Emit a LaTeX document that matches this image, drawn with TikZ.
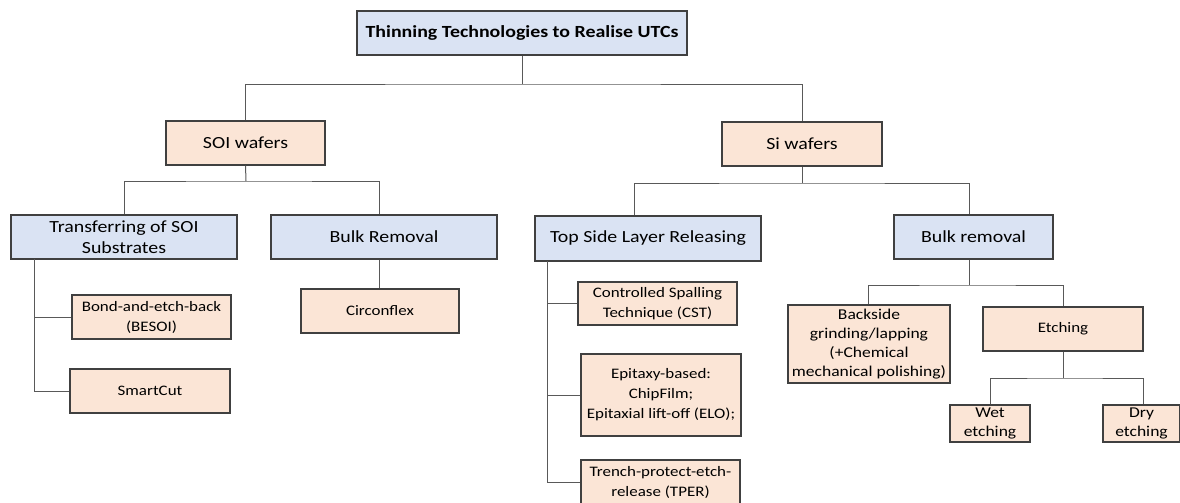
\documentclass[tikz,border=0pt]{standalone}
\usepackage{fontspec}
\setmainfont{Carlito}[FakeStretch=1.17]
\begin{document}
\begin{tikzpicture}[x=1pt,y=-1pt,
  every node/.style={inner sep=0pt,align=center,font=\fontsize{17}{20.5}\selectfont},
  bluebox/.style={draw=boxline,line width=1.2pt,fill=blueish,rectangle},
  peachbox/.style={draw=boxline,line width=1.2pt,fill=peach,rectangle},
  leaf/.style={peachbox,font=\fontsize{14.5}{20}\selectfont},
  link/.style={draw=linkgray,line width=1pt}]
\definecolor{blueish}{HTML}{DAE3F3}
\definecolor{peach}{HTML}{FBE5D6}
\definecolor{boxline}{HTML}{404040}
\definecolor{linkgray}{HTML}{595959}
\useasboundingbox (0,0) rectangle (1180,503);

% --- boxes ---
\node[bluebox,minimum width=330,minimum height=44,font=\fontsize{17}{20.5}\selectfont\bfseries] (title) at (522,33) {Thinning Technologies to Realise UTCs};

\node[peachbox,minimum width=159,minimum height=44] (soi) at (245.5,143) {SOI wafers};
\node[peachbox,minimum width=160,minimum height=44] (si) at (802,144) {Si wafers};

\node[bluebox,minimum width=226,minimum height=44] (trans) at (124,237) {Transferring of SOI\\Substrates};
\node[bluebox,minimum width=226,minimum height=44] (bulkA) at (384,237) {Bulk Removal};
\node[bluebox,minimum width=226,minimum height=45] (topl) at (648,238.5) {Top Side Layer Releasing};
\node[bluebox,minimum width=159,minimum height=44] (bulkB) at (973.5,237) {Bulk removal};

\node[leaf,minimum width=159,minimum height=44] (bond) at (151.5,317) {Bond-and-etch-back\\(BESOI)};
\node[leaf,minimum width=160,minimum height=44] (smart) at (150,391) {SmartCut};
\node[leaf,minimum width=158,minimum height=44] (circ) at (380,311) {Circonflex};

\node[leaf,minimum width=159,minimum height=43] (cst) at (657.5,303.5) {Controlled Spalling\\Technique (CST)};
\node[leaf,minimum width=160,minimum height=82] (epi) at (661,395) {Epitaxy-based:\\ChipFilm;\\Epitaxial lift-off (ELO);};
\node[leaf,minimum width=159,minimum height=44] (tper) at (660.5,482) {Trench-protect-etch-\\release (TPER)};

\node[leaf,minimum width=162,minimum height=78,font=\fontsize{15}{19}\selectfont] (back) at (869,344) {Backside\\grinding/lapping\\(+Chemical\\mechanical polishing)};
\node[leaf,minimum width=160,minimum height=44] (etch) at (1063,329) {Etching};
\node[leaf,minimum width=80,minimum height=37,font=\fontsize{15}{19}\selectfont] (wet) at (990,423.5) {Wet\\etching};
\node[leaf,minimum width=77,minimum height=37,font=\fontsize{15}{19}\selectfont] (dry) at (1141.5,423.5) {Dry\\etching};

% --- junction points ---
\coordinate (j0) at (522,84);
\coordinate (j1) at (246,181);
\coordinate (j2) at (802,183);
\coordinate (j3) at (969,285);
\coordinate (j4) at (1063,378);
\coordinate (tA) at (34,259);
\coordinate (tB) at (547,261);

% --- connectors ---
\draw[link] (title.south) -- (j0);
\draw[link] (soi.north) |- (j0) -| (si.north);

\draw[link] (soi.south) -- (j1);
\draw[link] (trans.north) |- (j1) -| ([xshift=-5pt]bulkA.north);

\draw[link] (si.south) -- (j2);
\draw[link] ([xshift=-14pt]topl.north) |- (j2) -| ([xshift=-4.5pt]bulkB.north);

\draw[link] (tA) |- (smart.west);
\draw[link] (bond.west) -- (bond.west -| tA);

\draw[link] ([xshift=-5pt]bulkA.south) -- ([xshift=-1pt]circ.north);

\draw[link] (tB) |- (tper.west);
\draw[link] (cst.west) -- (cst.west -| tB);
\draw[link] (epi.west) -- (epi.west -| tB);

\draw[link] ([xshift=-4.5pt]bulkB.south) -- (j3);
\draw[link] ([xshift=-1pt]back.north) |- (j3) -| (etch.north);

\draw[link] (etch.south) -- (j4);
\draw[link] (wet.north) |- (j4) -| ([xshift=1.5pt]dry.north);
\end{tikzpicture}
\end{document}
